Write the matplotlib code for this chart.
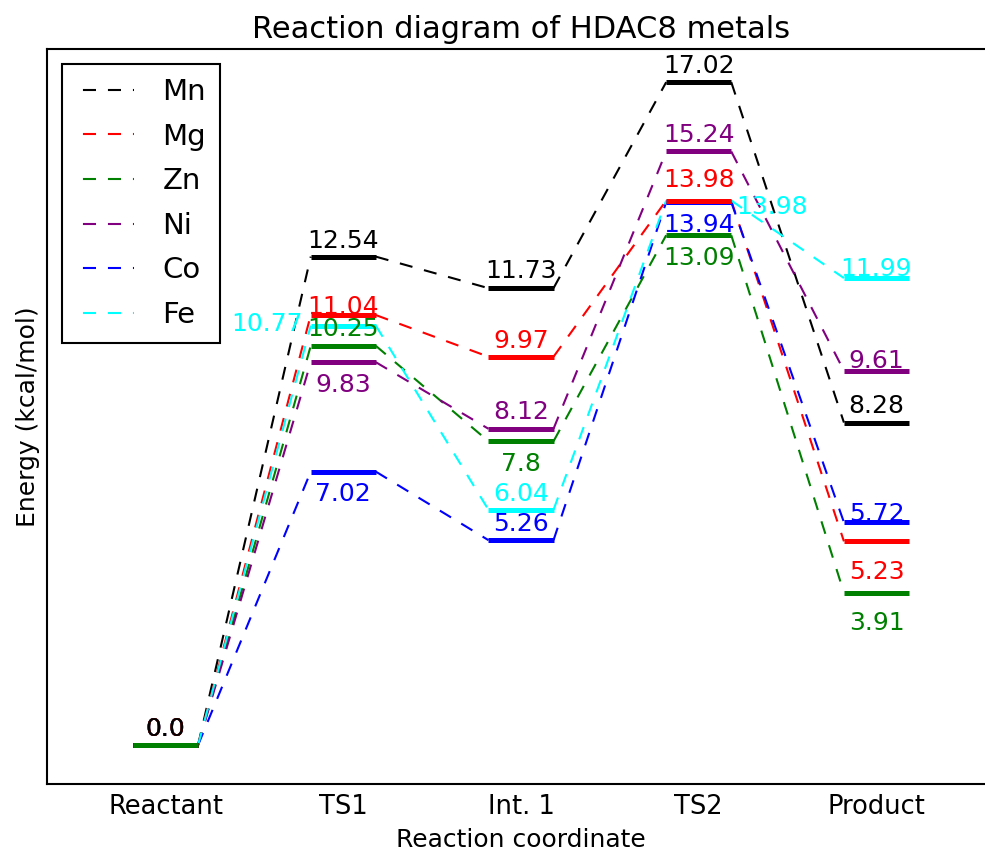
import numpy as np
import matplotlib
matplotlib.use('Agg')
from matplotlib import pyplot as plt

# Energies (kcal/mol) along the reaction path for each metal
steps = ['Reactant', 'TS1', 'Int. 1', 'TS2', 'Product']
metals = ['Mn', 'Mg', 'Zn', 'Ni', 'Co', 'Fe']

mn = [0.0, 12.54, 11.73, 17.02, 8.28]
mg = [0.0, 11.04, 9.97, 13.98, 5.23]
zn = [0.0, 10.25, 7.8, 13.09, 3.91]
ni = [0.0, 9.83, 8.12, 15.24, 9.61]
co = [0.0, 7.02, 5.26, 13.94, 5.72]
fe = [0.0, 10.77, 6.04, 13.98, 11.99]

energies = [mn, mg, zn, ni, co, fe]
colors = ['black', 'red', 'green', 'purple', 'blue', 'cyan']

# stacking of the level bars where they overlap
bar_z = [5, 4, 6, 3, 2, 1]

# where each number goes relative to its level (pixels, + is down)
label_dy = [[-16, -16, -17, -16, -17],
            [-16, -8, -16, -21, 31],
            [-16, -17, 23, 23, 30],
            [-16, 23, -17, -16, -10],
            [-16, 22, -16, 23, -8],
            [-16, -2, -16, 6, -9]]
# Fe labels that sit beside the bar instead of over it
side = {(5, 1): 'left', (5, 3): 'right'}

halfw = 0.183
plt.rcParams['lines.scale_dashes'] = False
dash = (9.4, 8.6)

fig = plt.figure(figsize=(9.85, 8.52), dpi=100)
ax = fig.add_axes([47/985, 68/852, 948/985, 735/852])

x = np.arange(len(steps))
for m, (name, e, c) in enumerate(zip(metals, energies, colors)):
    for i in range(len(steps)):
        ax.plot([x[i]-halfw, x[i]+halfw], [e[i], e[i]], color=c, lw=3.6,
                solid_capstyle='butt', zorder=10+bar_z[m])
        if i < len(steps)-1:
            ax.plot([x[i]+halfw, x[i+1]-halfw], [e[i], e[i+1]], color=c,
                    lw=1.5, dashes=dash, zorder=2,
                    label=name if i == 0 else None)

        pos = side.get((m, i))
        if pos == 'left':
            xy, dx, ha = (x[i]-halfw, e[i]), -8, 'right'
        elif pos == 'right':
            xy, dx, ha = (x[i]+halfw, e[i]), 5, 'left'
        else:
            xy, dx, ha = (x[i], e[i]), 0, 'center'
        ax.annotate(str(e[i]), xy=xy, xytext=(dx, -label_dy[m][i]),
                    textcoords='offset pixels', ha=ha, va='center',
                    color=c, fontsize=18, zorder=40-m)

ax.set_xlim(-0.667, len(steps)-1+0.667)
ax.set_ylim(-1, max(mn)*1.05)
ax.set_xticks(x)
ax.set_xticklabels(steps, fontsize=18.5)
ax.set_yticks([])
ax.tick_params(axis='x', length=0, pad=7)
for sp in ax.spines.values():
    sp.set_linewidth(1.5)

ax.set_xlabel('Reaction coordinate', fontsize=18, labelpad=6)
ax.set_ylabel('Energy (kcal/mol)', fontsize=18, labelpad=5)
ax.set_title('Reaction diagram of HDAC8 metals', fontsize=22, pad=8)

leg = ax.legend(loc='upper left', fontsize=21, handlelength=2.0,
                handletextpad=0.97, borderpad=0.48, labelspacing=0.57,
                borderaxespad=0, fancybox=False, edgecolor='black',
                framealpha=1, bbox_to_anchor=(0.0158, 0.9796))
leg.get_frame().set_linewidth(1.5)
# start the legend dashes a little way into the handle
for ln in leg.get_lines():
    ln.set_linestyle((13.0, dash))

fig.savefig('out.png', dpi=100)
